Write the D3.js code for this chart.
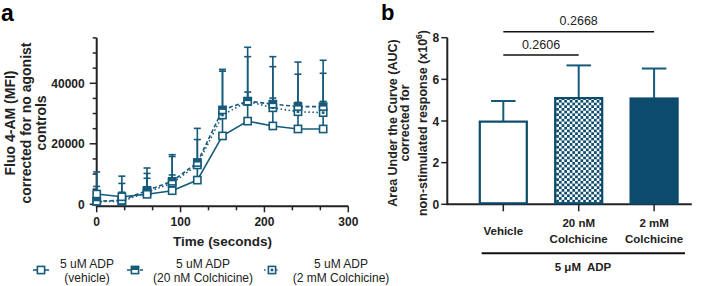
<!DOCTYPE html>
<html lang="en">
<head>
<meta charset="UTF-8">
<script src="https://d3js.org/d3.v7.min.js"></script>
<style>
    body { margin: 0; background: #fff; }
    svg { font-family: "Liberation Sans", Arial, sans-serif; display: block; }
    .tick-label { font-size: 12px; font-weight: bold; fill: #222; }
    .cat-label { font-size: 11.5px; font-weight: bold; fill: #222; }
    .axis-title { font-size: 13.5px; font-weight: bold; fill: #222; }
    .legend-text { font-size: 12px; fill: #222; }
</style>
</head>
<body>
<div id="chart"></div>
<script>
    // ---- data : panel a (time course) ----
    const temps = [0, 30, 60, 90, 120, 150, 180, 210, 240, 270];
    const vehicule = [3400, 2500, 3300, 4500, 8000, 22600, 27500, 25900, 24900, 24900];
    const vehiculeSD = [2500, 1500, 5300, 5200, 4000, 7600, 9600, 9200, 8800, 9100];
    const colch20 = [1000, 1300, 4600, 7600, 13800, 31200, 34100, 33100, 32300, 32300];
    const colch20SD = [9700, 8000, 7400, 8800, 11300, 13400, 17800, 15700, 14700, 15300];
    const colch2 = [900, 1000, 4000, 7000, 13000, 29500, 34000, 31900, 30600, 30300];
    const colch2SD = [2600, 5900, 6200, 8800, 8400, 14500, 14800, 13600, 12400, 13000];
    const nomsSeries = [["5 uM ADP", "(vehicle)"], ["5 uM ADP", "(20 nM Colchicine)"], ["5 uM ADP", "(2 mM Colchicine)"]];

    // ---- data : panel b (AUC) ----
    const categories = ["Vehicle", "20 nM Colchicine", "2 mM Colchicine"];
    const auc = [3.97, 5.1, 5.08];
    const aucSD = [0.99, 1.57, 1.44];
    const pValeurs = ["0.2606", "0.2668"];

    const bleu = "#165a7b";
    const bleuFonce = "#0c4b6b";

    const width = 706, height = 286;
    const svg = d3.select("#chart").append("svg")
        .attr("width", width)
        .attr("height", height);

    // motif damier pour la barre 20 nM
    const defs = svg.append("defs");
    const pat = defs.append("pattern")
        .attr("id", "damier")
        .attr("patternUnits", "userSpaceOnUse")
        .attr("width", 5.4).attr("height", 5.4);
    pat.append("rect").attr("width", 5.4).attr("height", 5.4).attr("fill", "#fff");
    pat.append("rect").attr("width", 2.7).attr("height", 2.7).attr("fill", bleuFonce);
    pat.append("rect").attr("x", 2.7).attr("y", 2.7).attr("width", 2.7).attr("height", 2.7).attr("fill", bleuFonce);

    // ======================= Panel a =======================
    const x = d3.scaleLinear().domain([0, 300]).range([96.7, 348.3]);
    const y = d3.scaleLinear().domain([0, 55000]).range([204.3, 37.9]);

    const ga = svg.append("g");

    ga.append("text").attr("x", 1).attr("y", 21)
        .style("font-size", "23px").style("font-weight", "bold").text("a");

    // axe Y (ticks majeurs + mineurs)
    ga.append("line").attr("x1", x(0)).attr("x2", x(0))
        .attr("y1", y(55000)).attr("y2", y(0) + 1)
        .attr("stroke", "#222").attr("stroke-width", 2);
    d3.range(0, 55001, 5000).forEach(v => {
        const major = v % 20000 === 0;
        ga.append("line").attr("x1", x(0) - (major ? 7 : 4)).attr("x2", x(0))
            .attr("y1", y(v)).attr("y2", y(v))
            .attr("stroke", "#222").attr("stroke-width", 1.5);
        if (major) {
            ga.append("text").attr("class", "tick-label")
                .attr("x", x(0) - 12).attr("y", y(v) + 4.5)
                .attr("text-anchor", "end").text(v);
        }
    });

    // axe X
    const yAxeX = y(0) + 2;
    ga.append("line").attr("x1", x(0) - 1).attr("x2", x(300))
        .attr("y1", yAxeX).attr("y2", yAxeX)
        .attr("stroke", "#222").attr("stroke-width", 2);
    d3.range(0, 10).forEach(i => {
        const v = i * 100 / 3;
        const major = i % 3 === 0;
        ga.append("line").attr("x1", x(v)).attr("x2", x(v))
            .attr("y1", yAxeX).attr("y2", yAxeX + (major ? 6 : 4))
            .attr("stroke", "#222").attr("stroke-width", 1.5);
        if (major) {
            ga.append("text").attr("class", "tick-label")
                .attr("x", x(v)).attr("y", 225.5)
                .attr("text-anchor", "middle").text(Math.round(v));
        }
    });

    ga.append("text").attr("class", "axis-title")
        .attr("x", (x(0) + x(300)) / 2).attr("y", 246)
        .attr("text-anchor", "middle").text("Time (seconds)");

    const titreA = ["Fluo 4-AM (MFI)", "corrected for no agonist", "controls"];
    titreA.forEach((t, i) => {
        ga.append("text").attr("class", "axis-title")
            .style("font-size", "14px")
            .attr("transform", `translate(${15 + i * 15.5},123) rotate(-90)`)
            .attr("text-anchor", "middle").text(t);
    });

    const series = [
        { moy: vehicule, sd: vehiculeSD, dash: null, marque: "vide" },
        { moy: colch20, sd: colch20SD, dash: "4,2.5", marque: "demi" },
        { moy: colch2, sd: colch2SD, dash: "1.5,2.5", marque: "point" }
    ];

    function marqueur(g, cx, cy, type, s) {
        g.append("rect").attr("x", cx - s / 2).attr("y", cy - s / 2)
            .attr("width", s).attr("height", s)
            .attr("fill", "#fff").attr("stroke", bleu).attr("stroke-width", 1.6);
        if (type === "demi") {
            g.append("rect").attr("x", cx - s / 2).attr("y", cy - s / 2)
                .attr("width", s).attr("height", s / 2).attr("fill", bleu);
        } else if (type === "point") {
            g.append("rect").attr("x", cx - 1.3).attr("y", cy - 1.3)
                .attr("width", 2.6).attr("height", 2.6).attr("fill", bleu);
        }
    }

    const ligne = d3.line().x((d, i) => x(temps[i])).y(d => y(d));

    // barres d'erreur d'abord
    series.forEach(s => {
        s.moy.forEach((m, i) => {
            const cx = x(temps[i]);
            ga.append("line").attr("x1", cx).attr("x2", cx)
                .attr("y1", y(m)).attr("y2", y(m + s.sd[i]))
                .attr("stroke", bleu).attr("stroke-width", 1.6);
            ga.append("line").attr("x1", cx - 3.5).attr("x2", cx + 3.5)
                .attr("y1", y(m + s.sd[i])).attr("y2", y(m + s.sd[i]))
                .attr("stroke", bleu).attr("stroke-width", 1.6);
        });
    });

    series.slice().reverse().forEach(s => {
        ga.append("path").datum(s.moy)
            .attr("d", ligne)
            .attr("fill", "none")
            .attr("stroke", bleu)
            .attr("stroke-width", 1.6)
            .attr("stroke-dasharray", s.dash);
        s.moy.forEach((m, i) => marqueur(ga, x(temps[i]), y(m), s.marque, 7.2));
    });

    // légende
    const legX = [41, 135, 272];
    const legTxt = [87, 203, 341];
    series.forEach((s, i) => {
        ga.append("line").attr("x1", legX[i] - 8).attr("x2", legX[i] + 8)
            .attr("y1", 270).attr("y2", 270)
            .attr("stroke", bleu).attr("stroke-width", 1.6)
            .attr("stroke-dasharray", s.dash);
        marqueur(ga, legX[i], 270, s.marque, 7.2);
        nomsSeries[i].forEach((t, j) => {
            ga.append("text").attr("class", "legend-text")
                .attr("x", legTxt[i]).attr("y", 267.5 + j * 14.5)
                .attr("text-anchor", "middle").text(t);
        });
    });

    // ======================= Panel b =======================
    const gb = svg.append("g");
    const xb = d3.scaleBand().domain(categories)
        .range([465.6, 691.8]).paddingInner(0.35).paddingOuter(0.175);
    const yb = d3.scaleLinear().domain([0, 8]).range([204.3, 37.7]);
    const axeB = 447.3;

    gb.append("text").attr("x", 381).attr("y", 20)
        .style("font-size", "22px").style("font-weight", "bold").text("b");

    gb.append("line").attr("x1", axeB).attr("x2", axeB)
        .attr("y1", yb(8)).attr("y2", yb(0))
        .attr("stroke", "#222").attr("stroke-width", 2);
    yb.ticks(4).forEach(v => {
        gb.append("line").attr("x1", axeB - 6).attr("x2", axeB)
            .attr("y1", yb(v)).attr("y2", yb(v))
            .attr("stroke", "#222").attr("stroke-width", 1.5);
        gb.append("text").attr("class", "tick-label")
            .attr("x", axeB - 8).attr("y", yb(v) + 4.5)
            .attr("text-anchor", "end").text(v);
    });
    gb.append("line").attr("x1", axeB - 1).attr("x2", 691.8)
        .attr("y1", yb(0)).attr("y2", yb(0))
        .attr("stroke", "#222").attr("stroke-width", 2);

    const remplissages = ["#fff", "url(#damier)", bleuFonce];
    categories.forEach((c, i) => {
        const bx = xb(c), bw = xb.bandwidth(), cx = bx + bw / 2;
        gb.append("line").attr("x1", cx).attr("x2", cx)
            .attr("y1", yb(auc[i])).attr("y2", yb(auc[i] + aucSD[i]))
            .attr("stroke", bleu).attr("stroke-width", 2);
        gb.append("line").attr("x1", cx - bw / 4).attr("x2", cx + bw / 4)
            .attr("y1", yb(auc[i] + aucSD[i])).attr("y2", yb(auc[i] + aucSD[i]))
            .attr("stroke", bleu).attr("stroke-width", 2);
        gb.append("rect").attr("x", bx + 1).attr("y", yb(auc[i]))
            .attr("width", bw - 2).attr("height", yb(0) - yb(auc[i]) - 1)
            .attr("fill", remplissages[i])
            .attr("stroke", bleuFonce).attr("stroke-width", 2.2);
        gb.append("line").attr("x1", cx).attr("x2", cx)
            .attr("y1", yb(0)).attr("y2", yb(0) + 7)
            .attr("stroke", "#222").attr("stroke-width", 1.5);
    });

    // étiquettes de catégories
    const lignesCat = [["Vehicle"], ["20 nM", "Colchicine"], ["2 mM", "Colchicine"]];
    categories.forEach((c, i) => {
        const cx = xb(c) + xb.bandwidth() / 2;
        const l = lignesCat[i];
        l.forEach((t, j) => {
            gb.append("text").attr("class", "cat-label")
                .attr("x", cx).attr("y", (l.length === 1 ? 234.5 : 227) + j * 15.5)
                .attr("text-anchor", "middle").text(t);
        });
    });
    gb.append("line").attr("x1", 481.7).attr("x2", 685)
        .attr("y1", 253.3).attr("y2", 253.3)
        .attr("stroke", "#111").attr("stroke-width", 2);
    gb.append("text").attr("class", "cat-label")
        .attr("x", 583).attr("y", 271).attr("text-anchor", "middle")
        .style("white-space", "pre")
        .text("5 μM  ADP");

    // comparaisons
    const comps = [[0, 1, 55, pValeurs[0]], [0, 2, 31.7, pValeurs[1]]];
    comps.forEach(([a, b, yy, p]) => {
        const xa = xb(categories[a]) + xb.bandwidth() / 2;
        const xz = xb(categories[b]) + xb.bandwidth() / 2;
        gb.append("line").attr("x1", xa).attr("x2", xz)
            .attr("y1", yy).attr("y2", yy)
            .attr("stroke", "#111").attr("stroke-width", 1.5);
        gb.append("text").attr("class", "legend-text")
            .style("font-size", "12.5px")
            .attr("x", (xa + xz) / 2).attr("y", yy - 6.5)
            .attr("text-anchor", "middle").text(p);
    });

    // titre axe Y panel b
    const titreB = ["Area Under the Curve (AUC)", "corrected for"];
    titreB.forEach((t, i) => {
        gb.append("text").attr("class", "tick-label")
            .style("font-size", "12.5px")
            .attr("transform", `translate(${397 + i * 12},123) rotate(-90)`)
            .attr("text-anchor", "middle").text(t);
    });
    const t3 = gb.append("text").attr("class", "tick-label")
        .style("font-size", "12.5px")
        .attr("transform", `translate(${426.5},123) rotate(-90)`)
        .attr("text-anchor", "middle");
    t3.append("tspan").text("non-stimulated response (x10");
    t3.append("tspan").attr("dy", -5).style("font-size", "8.5px").text("6");
    t3.append("tspan").attr("dy", 5).text(")");
</script>
</body>
</html>
